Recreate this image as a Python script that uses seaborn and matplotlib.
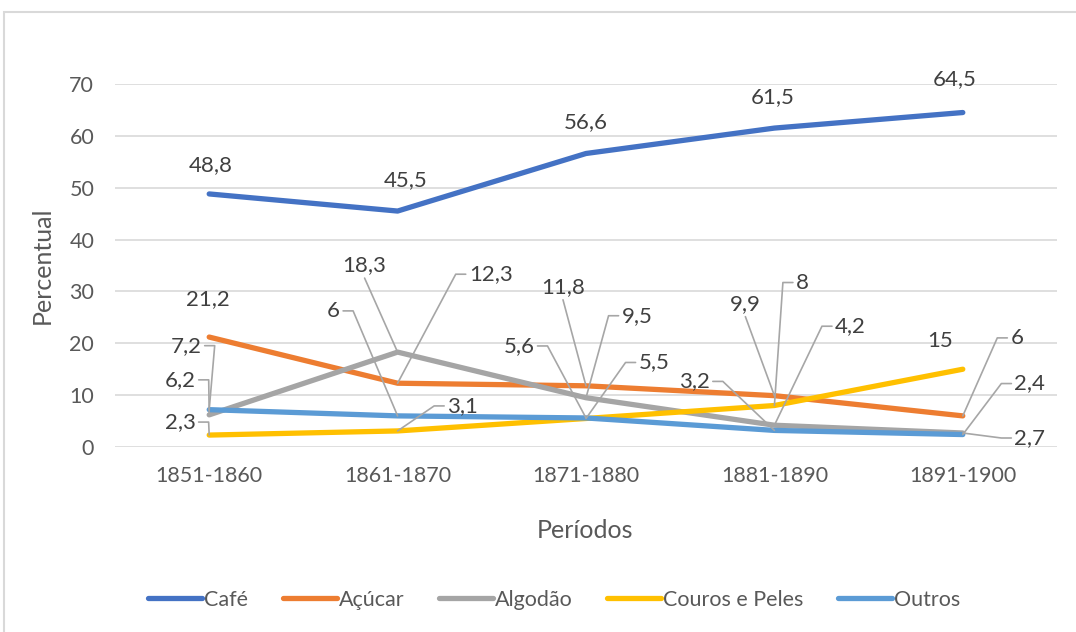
import numpy as np
import pandas as pd
import matplotlib
matplotlib.use("Agg")
import matplotlib.pyplot as plt
import seaborn as sns
from matplotlib.lines import Line2D
from matplotlib.patches import Rectangle
from matplotlib.transforms import IdentityTransform

periodos = ["1851-1860", "1861-1870", "1871-1880", "1881-1890", "1891-1900"]
series_names = ["Café", "Açúcar", "Algodão", "Couros e Peles", "Outros"]
cafe = [48.8, 45.5, 56.6, 61.5, 64.5]
acucar = [21.2, 12.3, 11.8, 9.9, 6]
algodao = [6.2, 18.3, 9.5, 4.2, 2.7]
couros = [2.3, 3.1, 5.5, 8, 15]
outros = [7.2, 6, 5.6, 3.2, 2.4]
values = [cafe, acucar, algodao, couros, outros]

colors = ["#4472C4", "#ED7D31", "#A5A5A5", "#FFC000", "#5B9BD5"]

# label placement: (dx, dy) in pixels from the point, leader side
label_pos = {
    "Café": [(2, 29, None), (8, 31, None), (0, 31, None), (-2, 31, None), (-8, 33, None)],
    "Açúcar": [(-1, 38, None), (93, 109, "R"), (-23, 99, "B"), (-29, 92, "B"), (54, 78, "R")],
    "Algodão": [(-29, 35, "L"), (-33, 87, "B"), (51, 82, "R"), (76, 99, "R"), (67, -5, "R")],
    "Couros e Peles": [(-29, 13, "L"), (65, 25, "R"), (68, 56, "R"), (28, 123, "R"), (-23, 28, None)],
    "Outros": [(-23, 64, "L"), (-64, 105, "L"), (-67, 72, "L"), (-80, 49, "L"), (67, 51, "R")],
}

rows = []
for name, vals in zip(series_names, values):
    for p, v in zip(periodos, vals):
        rows.append({"Períodos": p, "Percentual": v, "Série": name})
df = pd.DataFrame(rows)

sns.set_theme(style="white")
plt.rcParams["font.family"] = ["Lato", "DejaVu Sans"]

W, H = 1076, 632
fig = plt.figure(figsize=(W / 100, H / 100), dpi=100)
ax = fig.add_axes([115 / W, 1 - 447 / H, (1057 - 115) / W, (447 - 84) / H])

sns.lineplot(data=df, x="Períodos", y="Percentual", hue="Série",
             hue_order=series_names, palette=colors, linewidth=3.8,
             sort=False, ax=ax, legend=False)

ax.set_xlim(-0.5, 4.5)
ax.set_ylim(0, 70)
ax.set_yticks(np.arange(0, 71, 10))
ax.yaxis.grid(True, color="#d9d9d9", linewidth=1.2)
ax.set_axisbelow(True)
for s in ax.spines.values():
    s.set_visible(False)
ax.set_xlabel("")
ax.set_ylabel("")
ax.tick_params(axis="both", length=0, labelsize=15.5, labelcolor="#595959")
ax.tick_params(axis="x", pad=14)
ax.tick_params(axis="y", pad=15)

fig.text(42 / W, 1 - 265 / H, "Percentual", rotation=90, ha="center", va="center",
         fontsize=18, color="#595959")
fig.text(585 / W, 1 - 531 / H, "Períodos", ha="center", va="center",
         fontsize=18, color="#595959")

# data labels
texts = []
for name, vals in zip(series_names, values):
    for i, v in enumerate(vals):
        dx, dy, side = label_pos[name][i]
        lab = ("%g" % v).replace(".", ",")
        t = ax.annotate(lab, xy=(i, v), xytext=(dx, dy), textcoords="offset pixels",
                        ha="center", va="center", fontsize=16, color="#404040")
        texts.append((t, i, v, side))

fig.canvas.draw()
renderer = fig.canvas.get_renderer()
for t, i, v, side in texts:
    if side is None:
        continue
    bb = t.get_window_extent(renderer)
    px, py = ax.transData.transform((i, v))
    cy = (bb.y0 + bb.y1) / 2
    if side == "L":
        xs = [bb.x1 + 3, bb.x1 + 13, px]
        ys = [cy, cy, py]
    elif side == "R":
        xs = [bb.x0 - 3, bb.x0 - 13, px]
        ys = [cy, cy, py]
    else:
        cx = (bb.x0 + bb.x1) / 2
        xs = [cx, px]
        ys = [bb.y0 - 3, py]
    fig.add_artist(Line2D(xs, ys, transform=IdentityTransform(),
                          color="#a6a6a6", linewidth=1.2, zorder=5))

handles = [Line2D([0], [0], color=c, linewidth=3.8) for c in colors]
fig.legend(handles, series_names, loc="center", bbox_to_anchor=(0.515, 1 - 600 / H),
           ncol=5, frameon=False, fontsize=15.5, handlelength=2.5, handletextpad=0.1,
           columnspacing=1.6, labelcolor="#595959")

fig.add_artist(Rectangle((4 / W, -0.02), 1.02, 1 - 12 / H + 0.02,
                         transform=fig.transFigure, fill=False,
                         edgecolor="#d9d9d9", linewidth=1.5))

fig.savefig("out.png", dpi=100)
